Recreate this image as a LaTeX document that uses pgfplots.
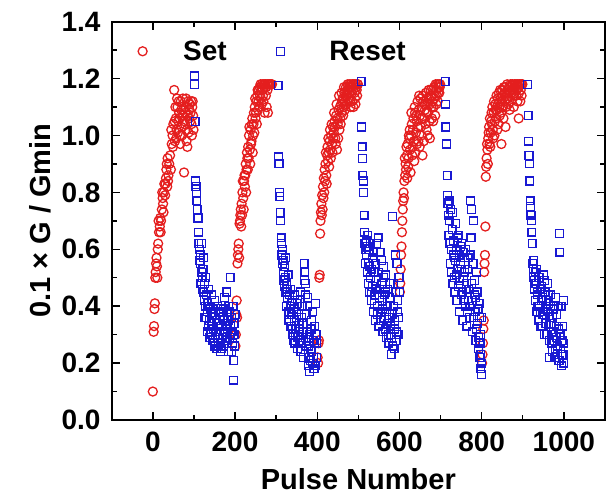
\documentclass[border=0pt]{standalone}
\usepackage{fontspec}
\setmainfont{Liberation Sans}
\usepackage{pgfplots}
\pgfplotsset{compat=1.18}
\definecolor{setred}{RGB}{228,30,30}
\definecolor{resetblue}{RGB}{25,25,210}
\newcommand{\tickfont}{\fontsize{28}{30}\selectfont\bfseries}
\newcommand{\labfont}{\fontsize{29}{31}\selectfont\bfseries}
\begin{document}
\begin{tikzpicture}
\path[use as bounding box] (-111.7pt,-75pt) rectangle (499.3pt,420pt);
\begin{axis}[
  scale only axis, width=493.3pt, height=398.3pt,
  at={(0,0)}, anchor=south west,
  xmin=-100, xmax=1100, ymin=0, ymax=1.4,
  xtick={0,200,...,1000}, ytick={0,0.2,...,1.4},
  minor x tick num=1, minor y tick num=1,
  tick align=inside, major tick length=8pt, minor tick length=5pt,
  every tick/.style={black, line width=1.4pt},
  axis line style={line width=2pt},
  /pgf/number format/assume math mode=true,
  /pgf/number format/1000 sep={},
  yticklabel style={/pgf/number format/fixed, /pgf/number format/precision=1, /pgf/number format/fixed zerofill, inner sep=0pt, xshift=-11pt},
  xticklabel style={inner sep=0pt, yshift=-11.7pt},
  tick label style={font=\tickfont},
  every axis x label/.style={at={(axis description cs:0.5,-0.148)}, anchor=center, font=\labfont},
  every axis y label/.style={at={(axis description cs:-0.1453,0.5)}, rotate=90, anchor=center, font=\labfont},
  xlabel={Pulse Number},
  ylabel={0.1 × G / Gmin},
  legend columns=2,
  legend image code/.code={\draw[#1] plot coordinates {(0pt,0pt)};},
  legend style={draw=none, fill=none, inner sep=0pt, font=\tickfont,
    at={(axis cs:-36.2,1.296)}, anchor=west,
    nodes={inner sep=0pt},
    /tikz/every odd column/.append style={column sep=36pt},
    /tikz/every even column/.append style={column sep=50pt}},
]
\addplot[only marks, mark=o, mark size=4.5pt, setred, mark options={line width=1.3pt}] coordinates {
(0,0.10) (2,0.31) (3,0.33) (4,0.39) (5,0.41) (6,0.50) (7,0.52) (8,0.55) (9,0.57) (10,0.54) (11,0.50)
(13,0.62) (15,0.66) (17,0.68) (18,0.71) (20,0.70) (22,0.74) (24,0.78) (25,0.76) (27,0.80) (28,0.83)
(30,0.79) (32,0.85) (33,0.88) (35,0.82) (36,0.92) (38,0.86) (40,0.90) (42,0.93) (44,0.88) (46,0.97)
(48,1.00) (50,1.04) (52,1.16) (54,0.98) (56,1.06) (58,1.02) (60,1.10) (62,1.05) (64,1.08) (66,1.00)
(68,1.12) (70,1.03) (72,1.07) (74,1.09) (76,0.87) (78,1.04) (80,1.10) (82,0.98) (84,0.96) (86,1.12)
(88,1.06) (90,1.11) (92,1.08) (94,1.04) (96,1.10) (98,1.07) (99,1.02)
(45,1.02) (49,0.96) (53,1.05) (55,1.10) (57,0.99) (59,1.13) (61,1.01) (63,1.12) (65,1.06) (67,0.97)
(69,1.09) (71,1.00) (73,1.13) (77,1.05) (79,1.08) (81,1.13) (83,1.02) (85,1.07) (87,1.01) (89,1.09)
(91,1.05) (93,1.12) (95,1.00) (97,1.12) (31,0.83) (34,0.90) (37,0.84) (26,0.73) (23,0.80) (19,0.66)
(14,0.70) (12,0.60)
(201,0.26) (202,0.30) (203,0.37) (204,0.42) (205,0.36) (206,0.55) (207,0.58) (208,0.60) (209,0.62)
(210,0.57) (211,0.69) (212,0.70) (213,0.72) (214,0.74) (215,0.68) (216,0.76) (218,0.80) (220,0.78)
(222,0.84) (223,0.86) (224,0.82) (226,0.90) (228,0.88) (229,0.94) (230,0.92) (232,0.96) (234,1.00)
(236,0.95) (238,1.02) (240,0.98) (241,1.04) (242,1.06) (244,1.00) (246,1.08) (248,1.10) (250,1.06)
(252,1.12) (254,1.14) (256,1.09) (258,1.16) (260,1.17) (262,1.18) (264,1.17) (265,1.11) (266,1.18)
(268,1.14) (270,1.18) (272,1.08) (273,1.18) (274,1.18) (276,1.17) (278,1.18) (280,1.18) (282,1.18)
(284,1.18) (286,1.18) (288,1.18) (290,1.18)
(217,0.72) (219,0.84) (221,0.74) (225,0.86) (227,0.80) (231,0.88) (233,0.92) (235,1.03) (237,0.90)
(239,0.97) (243,0.94) (245,1.04) (247,1.01) (249,1.13) (251,1.08) (253,1.04) (255,1.16) (257,1.12)
(259,1.10) (261,1.14) (263,1.13) (267,1.16) (269,1.12) (271,1.17) (275,1.14) (277,1.10) (279,1.16)
(280,1.08)
(401,0.22) (402,0.20) (403,0.27) (404,0.28) (405,0.50) (406,0.51) (407,0.655) (408,0.70) (409,0.73)
(410,0.76) (411,0.72) (412,0.79) (414,0.82) (415,0.78) (416,0.85) (418,0.88) (419,0.84) (420,0.90)
(422,0.86) (424,0.93) (425,0.96) (426,0.91) (428,0.94) (430,0.98) (432,0.95) (434,1.00) (436,0.97)
(438,1.03) (440,1.01) (442,1.05) (444,0.99) (446,1.07) (448,0.95) (450,1.04) (452,1.09) (454,1.02)
(456,1.06) (458,1.11) (460,1.08) (462,1.13) (464,1.10) (466,1.15) (468,1.12) (470,1.17) (472,1.14)
(474,1.18) (476,1.16) (478,1.18) (480,1.12) (482,1.18) (484,1.15) (486,1.18) (488,1.10) (490,1.18)
(492,1.13) (494,1.18) (496,1.16) (498,1.18)
(413,0.74) (417,0.80) (421,0.94) (423,0.83) (427,0.99) (429,0.89) (431,1.02) (433,0.92) (435,1.04)
(437,0.94) (439,0.99) (441,1.08) (443,1.03) (445,0.97) (447,1.11) (449,1.06) (451,0.99) (453,1.14)
(455,1.10) (457,1.04) (459,1.15) (461,1.12) (463,1.07) (465,1.17) (467,1.09) (469,1.14) (471,1.11)
(473,1.16) (475,1.13) (477,1.17) (479,1.15) (481,1.10) (483,1.17) (485,1.12) (487,1.16) (489,1.18)
(491,1.15) (493,1.11) (495,1.17) (497,1.14) (499,1.18)
(601,0.45) (602,0.48) (603,0.53) (604,0.58) (605,0.61) (606,0.66) (607,0.70) (608,0.74) (609,0.77)
(610,0.80) (611,0.78) (612,0.84) (614,0.86) (615,0.90) (616,0.88) (618,0.93) (619,0.85) (620,0.97)
(622,0.92) (624,0.99) (625,1.02) (626,0.95) (628,1.00) (630,1.04) (632,0.96) (634,1.06) (636,0.91)
(638,1.08) (640,1.01) (642,1.05) (644,1.12) (646,0.98) (648,1.14) (650,1.07) (652,1.03) (654,1.10)
(656,0.93) (658,1.12) (660,1.06) (662,1.09) (664,1.15) (666,1.02) (668,1.11) (670,1.08) (672,1.13)
(674,0.99) (676,1.16) (678,1.10) (680,1.12) (682,1.05) (684,1.17) (686,1.14) (688,1.18) (690,1.11)
(692,1.18) (694,1.15) (696,1.18) (698,1.17)
(613,0.92) (617,0.96) (621,0.89) (623,1.00) (627,0.87) (629,1.08) (631,0.93) (633,1.02) (635,0.98)
(637,1.10) (639,0.94) (641,1.07) (643,0.97) (645,1.03) (647,1.09) (649,0.96) (651,1.13) (653,1.00)
(655,1.06) (657,1.14) (659,0.98) (661,1.11) (663,1.04) (665,1.08) (667,1.13) (669,1.00) (671,1.16)
(673,1.05) (675,1.11) (677,1.14) (679,1.06) (681,1.16) (683,1.10) (685,1.13) (687,1.07) (689,1.16)
(691,1.14) (693,1.12) (695,1.17) (697,1.15) (699,1.18)
(801,0.20) (802,0.23) (803,0.27) (804,0.32) (805,0.35) (806,0.52) (807,0.55) (808,0.58) (809,0.68)
(810,0.855) (811,0.89) (812,0.92) (814,0.95) (815,0.90) (816,0.99) (818,1.03) (819,0.97) (820,1.06)
(822,1.01) (824,1.08) (825,1.04) (826,1.10) (828,0.99) (830,1.12) (832,1.05) (834,1.09) (836,1.14)
(838,1.02) (840,1.11) (842,1.15) (844,1.07) (846,1.13) (848,0.97) (850,1.16) (852,1.10) (854,1.17)
(856,1.12) (858,1.03) (860,1.15) (862,1.18) (864,1.13) (866,1.17) (868,1.09) (870,1.18) (872,1.15)
(874,1.18) (876,1.16) (878,1.10) (880,1.18) (882,1.17) (884,1.14) (886,1.18) (888,1.18) (890,1.06)
(892,1.18) (894,1.12) (896,1.18) (898,1.18)
(813,0.97) (817,1.01) (821,0.96) (823,1.05) (827,1.02) (829,1.08) (831,1.00) (833,1.11) (835,1.06)
(837,1.09) (839,1.13) (841,1.04) (843,1.10) (845,1.16) (847,1.08) (849,1.12) (851,1.14) (853,1.06)
(855,1.15) (857,1.17) (859,1.10) (861,1.13) (863,1.16) (865,1.11) (867,1.15) (869,1.17) (871,1.12)
(873,1.16) (875,1.18) (877,1.14) (879,1.17) (881,1.15) (883,1.18) (885,1.16) (887,1.12) (889,1.17)
(891,1.15) (893,1.18) (895,1.16) (897,1.14) (899,1.18)
};
\addlegendentry{Set}
\addplot[only marks, mark=square, mark size=3.9pt, resetblue, mark options={line width=1.3pt}] coordinates {
(101,1.21) (102,1.18) (103,1.05) (104,0.84) (105,0.82) (106,0.80) (107,0.77) (108,0.74) (110,0.71)
(111,0.66) (112,0.62) (114,0.60) (115,0.58) (116,0.55) (118,0.52) (119,0.62) (120,0.50) (121,0.46)
(122,0.53) (124,0.45) (125,0.42) (126,0.48) (128,0.40) (130,0.44) (131,0.36) (132,0.38) (134,0.41)
(136,0.33) (138,0.35) (140,0.39) (141,0.30) (142,0.34) (144,0.37) (146,0.28) (148,0.32) (150,0.42)
(151,0.26) (152,0.30) (154,0.35) (156,0.25) (158,0.40) (160,0.29) (162,0.33) (164,0.27) (166,0.38)
(168,0.25) (170,0.36) (172,0.30) (174,0.43) (176,0.28) (178,0.34) (180,0.45) (182,0.32) (184,0.24)
(186,0.38) (188,0.50) (190,0.30) (192,0.36) (194,0.27) (195,0.40) (196,0.14) (197,0.21) (198,0.34) (199,0.26)
(113,0.56) (117,0.48) (123,0.57) (127,0.36) (129,0.50) (133,0.31) (135,0.46) (137,0.40) (139,0.29)
(143,0.44) (145,0.33) (147,0.39) (149,0.27) (153,0.37) (155,0.31) (157,0.34) (159,0.26) (161,0.38)
(163,0.31) (165,0.24) (167,0.33) (169,0.29) (171,0.39) (173,0.26) (175,0.35) (177,0.31) (179,0.38)
(181,0.28) (183,0.35) (185,0.40) (187,0.29) (189,0.33) (191,0.24) (193,0.31) (200,0.37) (198,0.30)
(305,1.175) (306,0.925) (307,0.90) (308,0.80) (309,0.785) (310,0.73) (312,0.64) (313,0.62) (314,0.58)
(315,0.55) (316,0.60) (318,0.52) (320,0.47) (321,0.54) (322,0.50) (324,0.45) (325,0.40) (326,0.48)
(328,0.43) (330,0.38) (331,0.35) (332,0.44) (334,0.40) (336,0.33) (338,0.37) (340,0.42) (341,0.30)
(342,0.28) (344,0.35) (346,0.27) (348,0.32) (350,0.38) (352,0.25) (354,0.30) (356,0.34) (358,0.28)
(360,0.24) (362,0.36) (364,0.31) (366,0.22) (368,0.55) (370,0.52) (371,0.48) (372,0.44) (374,0.26)
(376,0.40) (378,0.19) (380,0.22) (381,0.17) (382,0.30) (384,0.25) (386,0.35) (388,0.20) (390,0.28)
(392,0.18) (394,0.33) (396,0.41) (398,0.22) (399,0.27)
(311,0.70) (317,0.56) (319,0.49) (323,0.57) (327,0.46) (329,0.51) (333,0.37) (335,0.46) (337,0.41)
(339,0.32) (343,0.39) (345,0.44) (347,0.30) (349,0.36) (351,0.41) (353,0.29) (355,0.37) (357,0.32)
(359,0.45) (361,0.27) (363,0.40) (365,0.34) (367,0.29) (369,0.49) (373,0.37) (375,0.31) (377,0.43)
(379,0.26) (383,0.21) (385,0.32) (387,0.24) (389,0.38) (391,0.22) (393,0.27) (395,0.19) (397,0.30)
(507,1.19) (508,1.03) (509,0.96) (510,0.92) (511,0.86) (512,0.84) (513,0.80) (514,0.72) (515,0.66)
(516,0.62) (517,0.60) (518,0.55) (519,0.63) (520,0.58) (522,0.52) (523,0.65) (524,0.48) (526,0.60)
(527,0.45) (528,0.54) (530,0.50) (532,0.42) (534,0.57) (535,0.47) (536,0.38) (538,0.52) (540,0.44)
(542,0.35) (544,0.49) (546,0.40) (548,0.64) (550,0.33) (552,0.46) (554,0.38) (556,0.56) (558,0.42)
(560,0.31) (562,0.50) (564,0.36) (566,0.45) (568,0.29) (570,0.40) (572,0.34) (574,0.27) (576,0.43)
(578,0.30) (580,0.23) (582,0.37) (583,0.716) (584,0.26) (586,0.48) (588,0.32) (590,0.58) (592,0.28)
(594,0.55) (596,0.42) (598,0.36) (599,0.50)
(521,0.61) (525,0.55) (529,0.62) (531,0.45) (533,0.53) (537,0.59) (539,0.41) (541,0.55) (543,0.46)
(545,0.62) (547,0.37) (549,0.52) (551,0.43) (553,0.59) (555,0.35) (557,0.48) (559,0.39) (561,0.54)
(563,0.44) (565,0.32) (567,0.51) (569,0.38) (571,0.46) (573,0.30) (575,0.36) (577,0.48) (579,0.33)
(581,0.29) (585,0.40) (587,0.25) (589,0.35) (591,0.45) (593,0.31) (595,0.38) (597,0.30) (600,0.45)
(711,1.19) (712,1.11) (713,1.03) (714,0.97) (716,0.86) (717,0.79) (718,0.76) (719,0.72) (720,0.65)
(721,0.77) (722,0.70) (723,0.62) (724,0.55) (725,0.74) (726,0.60) (727,0.52) (728,0.67) (730,0.48)
(731,0.58) (732,0.63) (734,0.50) (735,0.45) (736,0.56) (738,0.60) (740,0.42) (742,0.53) (743,0.65)
(744,0.47) (746,0.38) (748,0.55) (750,0.44) (752,0.62) (754,0.35) (756,0.50) (758,0.57) (760,0.40)
(762,0.46) (764,0.33) (766,0.53) (768,0.42) (770,0.36) (772,0.58) (773,0.77) (775,0.74) (776,0.48)
(778,0.31) (780,0.70) (782,0.44) (784,0.38) (786,0.28) (788,0.52) (790,0.34) (792,0.25) (794,0.41)
(796,0.22) (797,0.30) (798,0.18) (799,0.16) (800,0.36)
(729,0.73) (733,0.57) (737,0.69) (739,0.51) (741,0.64) (745,0.58) (747,0.49) (749,0.61) (751,0.53)
(753,0.45) (755,0.59) (757,0.42) (759,0.52) (761,0.60) (763,0.48) (765,0.38) (767,0.57) (769,0.46)
(771,0.40) (774,0.64) (777,0.42) (779,0.55) (781,0.36) (783,0.49) (785,0.43) (787,0.32) (789,0.45)
(791,0.39) (793,0.29) (795,0.36) (796,0.27) (798,0.23) (800,0.20)
(912,1.18) (913,1.07) (914,0.98) (915,0.93) (916,0.90) (917,0.84) (918,0.77) (919,0.75) (920,0.72)
(921,0.70) (922,0.66) (923,0.62) (924,0.55) (925,0.53) (926,0.50) (928,0.46) (930,0.52) (931,0.42)
(932,0.48) (934,0.38) (936,0.44) (938,0.50) (939,0.35) (940,0.40) (942,0.46) (944,0.33) (946,0.42)
(948,0.37) (950,0.51) (952,0.30) (954,0.45) (956,0.39) (958,0.34) (960,0.48) (962,0.41) (964,0.22)
(966,0.36) (968,0.44) (970,0.31) (972,0.24) (974,0.39) (976,0.28) (978,0.22) (980,0.43) (982,0.33)
(984,0.26) (986,0.40) (988,0.21) (989,0.655) (990,0.59) (991,0.30) (992,0.25) (994,0.19) (996,0.28)
(998,0.23) (999,0.42) (1000,0.27)
(927,0.56) (929,0.49) (933,0.53) (935,0.45) (937,0.40) (941,0.50) (943,0.38) (945,0.47) (947,0.33)
(949,0.43) (951,0.37) (953,0.49) (955,0.34) (957,0.42) (959,0.30) (961,0.38) (963,0.44) (965,0.28)
(967,0.40) (969,0.34) (971,0.27) (973,0.36) (975,0.31) (977,0.40) (979,0.25) (981,0.29) (983,0.37)
(985,0.23) (987,0.32) (993,0.40) (995,0.23) (997,0.33) (1000,0.20)
};
\addlegendentry{\hspace{9pt}Reset}
\end{axis}
\end{tikzpicture}
\end{document}
